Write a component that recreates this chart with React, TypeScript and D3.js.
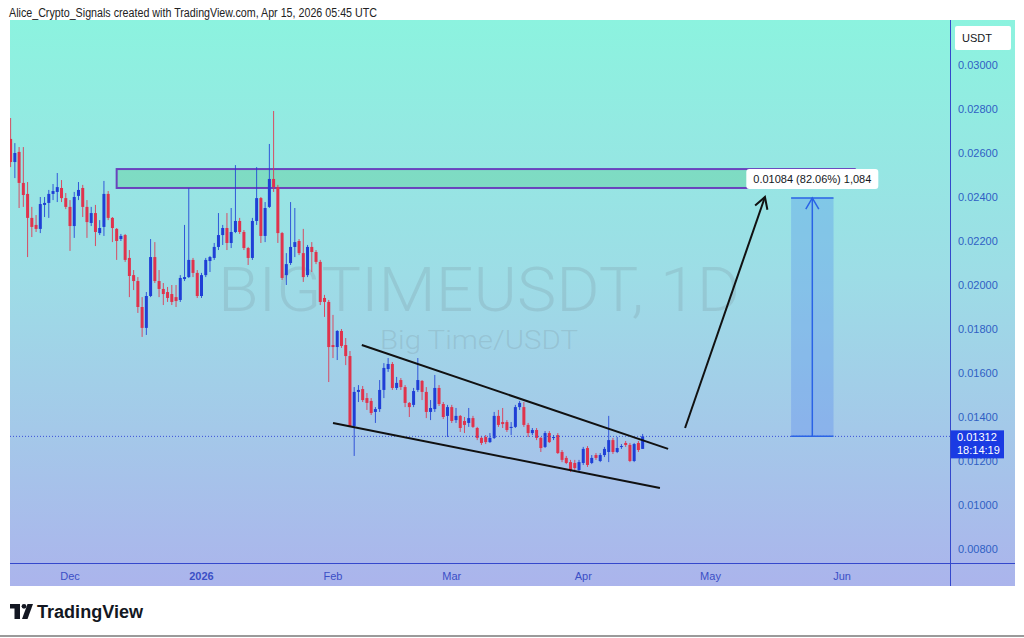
import React from 'react';
import * as d3 from 'd3';

// BIGTIMEUSDT daily candles, starting on FIRST_DAY
const FIRST_DAY = '2025-11-17';

const open = [
  0.02664, 0.02559, 0.02605, 0.02464, 0.02414, 0.02305, 0.02273, 0.02255, 0.02364, 0.02373,
  0.02414, 0.02423, 0.02441, 0.02395, 0.02355, 0.02268, 0.02405, 0.02441, 0.02355, 0.02282,
  0.02327, 0.02236, 0.02264, 0.02414, 0.02305, 0.02255, 0.02209, 0.02227, 0.02123, 0.02045,
  0.02018, 0.01900, 0.01805, 0.01950, 0.02127, 0.02018, 0.01982, 0.01968, 0.01959, 0.01945,
  0.01932, 0.02027, 0.02036, 0.02114, 0.02055, 0.01950, 0.02045, 0.02109, 0.02123, 0.02173,
  0.02227, 0.02259, 0.02191, 0.02241, 0.02291, 0.02241, 0.02168, 0.02123, 0.02291, 0.02395,
  0.02223, 0.02355, 0.02482, 0.02445, 0.02236, 0.02045, 0.02100, 0.02173, 0.02200, 0.02145,
  0.02045, 0.02173, 0.02150, 0.02105, 0.01941, 0.01923, 0.01727, 0.01718, 0.01791, 0.01727,
  0.01677, 0.01359, 0.01514, 0.01527, 0.01486, 0.01473, 0.01423, 0.01436, 0.01523, 0.01618,
  0.01641, 0.01532, 0.01568, 0.01536, 0.01464, 0.01455, 0.01523, 0.01564, 0.01514, 0.01423,
  0.01436, 0.01532, 0.01459, 0.01405, 0.01445, 0.01386, 0.01405, 0.01382, 0.01373, 0.01395,
  0.01350, 0.01305, 0.01309, 0.01286, 0.01305, 0.01405, 0.01377, 0.01377, 0.01350, 0.01355,
  0.01445, 0.01445, 0.01364, 0.01327, 0.01341, 0.01305, 0.01264, 0.01327, 0.01305, 0.01318,
  0.01241, 0.01214, 0.01195, 0.01191, 0.01159, 0.01191, 0.01259, 0.01191, 0.01227, 0.01200,
  0.01227, 0.01241, 0.01295, 0.01241, 0.01264, 0.01282, 0.01273, 0.01200, 0.01282, 0.01255,
];

const high = [
  0.02759, 0.02645, 0.02627, 0.02627, 0.02468, 0.02355, 0.02318, 0.02400, 0.02400, 0.02432,
  0.02459, 0.02509, 0.02477, 0.02418, 0.02386, 0.02423, 0.02468, 0.02455, 0.02386, 0.02355,
  0.02364, 0.02295, 0.02473, 0.02427, 0.02309, 0.02259, 0.02232, 0.02232, 0.02159, 0.02068,
  0.02036, 0.01945, 0.01968, 0.02209, 0.02195, 0.02068, 0.02009, 0.01991, 0.02000, 0.02000,
  0.02045, 0.02273, 0.02441, 0.02123, 0.02068, 0.02055, 0.02123, 0.02132, 0.02191, 0.02327,
  0.02273, 0.02327, 0.02350, 0.02545, 0.02305, 0.02250, 0.02173, 0.02305, 0.02536, 0.02400,
  0.02377, 0.02641, 0.02791, 0.02455, 0.02241, 0.02145, 0.02377, 0.02350, 0.02209, 0.02255,
  0.02182, 0.02195, 0.02159, 0.02114, 0.01955, 0.01932, 0.01864, 0.01795, 0.01800, 0.01759,
  0.01700, 0.01536, 0.01545, 0.01541, 0.01509, 0.01486, 0.01445, 0.01568, 0.01645, 0.01668,
  0.01650, 0.01582, 0.01577, 0.01545, 0.01468, 0.01532, 0.01668, 0.01568, 0.01536, 0.01477,
  0.01591, 0.01545, 0.01468, 0.01455, 0.01455, 0.01441, 0.01409, 0.01400, 0.01441, 0.01405,
  0.01355, 0.01314, 0.01318, 0.01327, 0.01423, 0.01432, 0.01441, 0.01386, 0.01377, 0.01455,
  0.01473, 0.01468, 0.01373, 0.01350, 0.01350, 0.01309, 0.01336, 0.01336, 0.01318, 0.01327,
  0.01250, 0.01223, 0.01205, 0.01205, 0.01205, 0.01264, 0.01268, 0.01227, 0.01236, 0.01236,
  0.01264, 0.01405, 0.01305, 0.01309, 0.01277, 0.01291, 0.01282, 0.01282, 0.01291, 0.01323,
];

const low = [
  0.02536, 0.02486, 0.02350, 0.02355, 0.02127, 0.02218, 0.02241, 0.02236, 0.02309, 0.02305,
  0.02386, 0.02377, 0.02377, 0.02345, 0.02155, 0.02214, 0.02386, 0.02309, 0.02214, 0.02268,
  0.02177, 0.02227, 0.02223, 0.02295, 0.02195, 0.02114, 0.02200, 0.02105, 0.01945, 0.01977,
  0.01873, 0.01764, 0.01773, 0.01945, 0.02009, 0.01945, 0.01909, 0.01923, 0.01909, 0.01900,
  0.01923, 0.02018, 0.02032, 0.02036, 0.01941, 0.01941, 0.02036, 0.02059, 0.02114, 0.02159,
  0.02182, 0.02159, 0.02168, 0.02236, 0.02232, 0.02159, 0.02091, 0.02114, 0.02273, 0.02191,
  0.02195, 0.02350, 0.02423, 0.02191, 0.02023, 0.02000, 0.02091, 0.02127, 0.02136, 0.02014,
  0.02036, 0.02059, 0.02095, 0.01909, 0.01855, 0.01559, 0.01668, 0.01659, 0.01714, 0.01636,
  0.01355, 0.01223, 0.01468, 0.01468, 0.01432, 0.01409, 0.01373, 0.01423, 0.01486, 0.01605,
  0.01523, 0.01523, 0.01523, 0.01445, 0.01400, 0.01445, 0.01514, 0.01477, 0.01395, 0.01386,
  0.01423, 0.01450, 0.01391, 0.01309, 0.01373, 0.01373, 0.01332, 0.01327, 0.01355, 0.01350,
  0.01295, 0.01273, 0.01277, 0.01282, 0.01300, 0.01355, 0.01350, 0.01332, 0.01318, 0.01350,
  0.01432, 0.01355, 0.01309, 0.01318, 0.01295, 0.01241, 0.01259, 0.01282, 0.01295, 0.01232,
  0.01195, 0.01186, 0.01150, 0.01150, 0.01150, 0.01182, 0.01173, 0.01186, 0.01205, 0.01195,
  0.01218, 0.01195, 0.01232, 0.01236, 0.01255, 0.01264, 0.01195, 0.01195, 0.01241, 0.01255,
];

const close = [
  0.02559, 0.02600, 0.02464, 0.02409, 0.02305, 0.02264, 0.02255, 0.02368, 0.02373, 0.02414,
  0.02427, 0.02445, 0.02395, 0.02355, 0.02268, 0.02400, 0.02432, 0.02355, 0.02286, 0.02327,
  0.02241, 0.02259, 0.02414, 0.02305, 0.02259, 0.02200, 0.02223, 0.02114, 0.02041, 0.02018,
  0.01900, 0.01805, 0.01950, 0.02127, 0.02018, 0.01982, 0.01959, 0.01941, 0.01923, 0.01927,
  0.02032, 0.02036, 0.02114, 0.02055, 0.01950, 0.02045, 0.02114, 0.02127, 0.02173, 0.02227,
  0.02259, 0.02191, 0.02241, 0.02291, 0.02241, 0.02168, 0.02123, 0.02291, 0.02395, 0.02223,
  0.02350, 0.02482, 0.02445, 0.02236, 0.02032, 0.02095, 0.02173, 0.02195, 0.02145, 0.02036,
  0.02173, 0.02150, 0.02105, 0.01923, 0.01923, 0.01718, 0.01718, 0.01791, 0.01723, 0.01677,
  0.01359, 0.01514, 0.01523, 0.01477, 0.01464, 0.01418, 0.01436, 0.01523, 0.01623, 0.01641,
  0.01532, 0.01555, 0.01536, 0.01464, 0.01445, 0.01518, 0.01568, 0.01514, 0.01423, 0.01441,
  0.01532, 0.01459, 0.01400, 0.01445, 0.01382, 0.01405, 0.01350, 0.01364, 0.01395, 0.01355,
  0.01305, 0.01282, 0.01286, 0.01305, 0.01405, 0.01364, 0.01368, 0.01341, 0.01355, 0.01445,
  0.01464, 0.01364, 0.01327, 0.01341, 0.01305, 0.01259, 0.01327, 0.01286, 0.01309, 0.01236,
  0.01205, 0.01191, 0.01159, 0.01168, 0.01195, 0.01255, 0.01182, 0.01214, 0.01214, 0.01227,
  0.01255, 0.01295, 0.01241, 0.01259, 0.01268, 0.01273, 0.01200, 0.01277, 0.01250, 0.01312,
];

// Axis ticks
const priceTicks = [0.008, 0.01, 0.012, 0.014, 0.016, 0.018, 0.02, 0.022, 0.024, 0.026, 0.028, 0.03];
const timeTickDates = ['2025-12-01', '2026-01-01', '2026-02-01', '2026-03-01', '2026-04-01', '2026-05-01', '2026-06-01'];
const timeTickLabels = ['Dec', '2026', 'Feb', 'Mar', 'Apr', 'May', 'Jun'];

// Last price and bar countdown
const lastPrice = 0.01312;
const countdown = '18:14:19';

// Resistance zone
const zoneDates = ['2025-12-12', '2026-06-04'];
const zonePrices = [0.02441, 0.02527];

// Falling wedge trend lines [date, price]
const upperLine: [string, number][] = [['2026-02-07T19:00:00Z', 0.01727], ['2026-04-21T00:00:00Z', 0.01255]];
const lowerLine: [string, number][] = [['2026-02-01T00:00:00Z', 0.01373], ['2026-04-19T02:00:00Z', 0.01077]];

// Projection arrow
const projection: [string, number][] = [['2026-04-25T00:00:00Z', 0.0135], ['2026-05-13T20:00:00Z', 0.024]];

// Price range measurement
const rangeDates = ['2026-05-20', '2026-05-30'];
const rangeChange = 0.01084;
const rangePercent = 82.06;
const rangeTicks = 1084;

const FONT = '"Liberation Sans", Arial, "DejaVu Sans", sans-serif';
const W = 1024;
const H = 638;
const PLOT = { left: 10, right: 950, top: 20, bottom: 563 };
const FRAME = { right: 1015, bottom: 586 };
const RED = '#e0334c';
const BLUE = '#1f3fd6';
const AXIS_BLUE = '#3448cc';

const d = (s: string) => new Date(s.length === 10 ? s + 'T00:00:00Z' : s);

function arrowHead(x1: number, y1: number, x2: number, y2: number, len: number) {
  const a = Math.atan2(y2 - y1, x2 - x1);
  const s = Math.PI / 6;
  const p1 = [x2 - len * Math.cos(a - s), y2 - len * Math.sin(a - s)];
  const p2 = [x2 - len * Math.cos(a + s), y2 - len * Math.sin(a + s)];
  return `M${p1[0]},${p1[1]}L${x2},${y2}L${p2[0]},${p2[1]}`;
}

export default function App() {
  const x = d3.scaleUtc().domain([d('2025-12-01'), d('2026-06-01')]).range([70, 842]);
  const y = d3.scaleLinear().domain([0.008, 0.03]).range([549, 65]);

  const start = d(FIRST_DAY);
  const candles = open.map((o, i) => ({
    date: d3.utcDay.offset(start, i),
    o, h: high[i], l: low[i], c: close[i],
  }));
  const bodyW = 3;

  const zx0 = x(d(zoneDates[0]));
  const zx1 = x(d(zoneDates[1]));
  const zy0 = y(zonePrices[1]);
  const zy1 = y(zonePrices[0]);

  const rx0 = x(d(rangeDates[0]));
  const rx1 = x(d(rangeDates[1]));
  const rxm = (rx0 + rx1) / 2;
  const ryBase = y(lastPrice);
  const ryTop = y(lastPrice + rangeChange);

  const line = d3.line<[string, number]>().x((p) => x(d(p[0]))).y((p) => y(p[1]));

  const px1 = x(d(projection[0][0]));
  const py1 = y(projection[0][1]);
  const px2 = x(d(projection[1][0]));
  const py2 = y(projection[1][1]);

  const lastY = y(lastPrice);
  const rangeLabel = `${rangeChange.toFixed(5)} (${rangePercent.toFixed(2)}%) ${d3.format(',')(rangeTicks)}`;
  const labelW = 132;

  return (
    <svg width={W} height={H} style={{ position: 'absolute', left: 0, top: 0, background: '#fff' }} fontFamily={FONT}>
      <defs>
        <linearGradient id="bg" x1="0" y1="0" x2="0" y2="1">
          <stop offset="0" stopColor="#8cf3df" />
          <stop offset="0.45" stopColor="#9ddde6" />
          <stop offset="1" stopColor="#abb4ec" />
        </linearGradient>
        <clipPath id="plot">
          <rect x={PLOT.left} y={PLOT.top} width={PLOT.right - PLOT.left} height={PLOT.bottom - PLOT.top} />
        </clipPath>
      </defs>

      {/* header */}
      <text x={9} y={17} fontSize={12} fill="#222" textLength={368} lengthAdjust="spacingAndGlyphs">
        Alice_Crypto_Signals created with TradingView.com, Apr 15, 2026 05:45 UTC
      </text>

      {/* chart background */}
      <rect x={PLOT.left} y={PLOT.top} width={FRAME.right - PLOT.left} height={FRAME.bottom - PLOT.top} fill="url(#bg)" />

      {/* watermark */}
      <text x={218} y={311} fontSize={62} fontWeight={300} fill="#7f9aa6" fillOpacity={0.28}
        textLength={522} lengthAdjust="spacingAndGlyphs" fontFamily='Roboto, "Liberation Sans", sans-serif'>
        BIGTIMEUSDT, 1D
      </text>
      <text x={380} y={349} fontSize={26} fontWeight={300} fill="#7f9aa6" fillOpacity={0.3}
        textLength={198} lengthAdjust="spacingAndGlyphs" fontFamily='Roboto, "Liberation Sans", sans-serif'>
        Big Time/USDT
      </text>

      <g clipPath="url(#plot)">
        {/* resistance zone */}
        <rect x={zx0} y={zy0} width={zx1 - zx0} height={zy1 - zy0}
          fill="rgba(80,200,130,0.33)" stroke="#6a43bd" strokeWidth={2} />

        {/* candles */}
        {candles.map((k, i) => {
          const cx = x(k.date);
          const up = k.c >= k.o;
          const col = up ? BLUE : RED;
          const top = y(Math.max(k.o, k.c));
          const bot = y(Math.min(k.o, k.c));
          return (
            <g key={i}>
              <line x1={cx} x2={cx} y1={y(k.h)} y2={y(k.l)} stroke={col} strokeWidth={1} strokeOpacity={0.85} />
              <rect x={cx - bodyW / 2} y={top} width={bodyW} height={Math.max(1, bot - top)} fill={col} />
            </g>
          );
        })}

        {/* last price line */}
        <line x1={PLOT.left} x2={PLOT.right} y1={lastY} y2={lastY} stroke="#3a4fd8" strokeWidth={1} strokeDasharray="1,2" />

        {/* wedge */}
        <path d={line(upperLine) || ''} stroke="#111" strokeWidth={2} fill="none" />
        <path d={line(lowerLine) || ''} stroke="#111" strokeWidth={2} fill="none" />

        {/* projection arrow */}
        <line x1={px1} y1={py1} x2={px2} y2={py2} stroke="#111" strokeWidth={2} />
        <path d={arrowHead(px1, py1, px2, py2, 13)} stroke="#111" strokeWidth={2} fill="none" />

        {/* price range measurement */}
        <rect x={rx0} y={ryTop} width={rx1 - rx0} height={ryBase - ryTop} fill="rgba(45,100,240,0.22)" />
        <line x1={rx0} x2={rx1} y1={ryTop} y2={ryTop} stroke="#2a63e6" strokeWidth={1.5} />
        <line x1={rx0} x2={rx1} y1={ryBase} y2={ryBase} stroke="#2a63e6" strokeWidth={1.5} />
        <line x1={rxm} x2={rxm} y1={ryBase} y2={ryTop} stroke="#2a63e6" strokeWidth={1.5} />
        <path d={arrowHead(rxm, ryBase, rxm, ryTop, 13)} stroke="#2a63e6" strokeWidth={1.5} fill="none" />

        <rect x={rxm - labelW / 2} y={ryTop - 29} width={labelW} height={20} rx={3} fill="#fff" />
        <text x={rxm} y={ryTop - 15} fontSize={11} fill="#131722" textAnchor="middle">{rangeLabel}</text>
      </g>

      {/* axes lines */}
      <line x1={PLOT.right + 0.5} x2={PLOT.right + 0.5} y1={PLOT.top} y2={FRAME.bottom} stroke={AXIS_BLUE} strokeWidth={1} />
      <line x1={PLOT.left} x2={FRAME.right} y1={PLOT.bottom + 0.5} y2={PLOT.bottom + 0.5} stroke={AXIS_BLUE} strokeWidth={1} />

      {/* price axis */}
      <rect x={955} y={26} width={56} height={24} rx={2} fill="#fff" />
      <text x={962} y={42} fontSize={11} fill="#131722">USDT</text>
      {priceTicks.map((p) => (
        <text key={p} x={958} y={y(p) + 4} fontSize={11} fill="#2f5fc4">{p.toFixed(5)}</text>
      ))}
      <rect x={951} y={lastY - 6} width={53} height={28} fill="#1a3be3" />
      <text x={957} y={lastY + 5} fontSize={11} fill="#fff">{lastPrice.toFixed(5)}</text>
      <text x={957} y={lastY + 18} fontSize={11} fill="#fff">{countdown}</text>

      {/* time axis */}
      {timeTickDates.map((t, i) => (
        <text key={t} x={x(d(t))} y={580} fontSize={11} fill="#3b4fc6" textAnchor="middle"
          fontWeight={timeTickLabels[i] === '2026' ? 700 : 400}>
          {timeTickLabels[i]}
        </text>
      ))}

      {/* footer logo */}
      <g fill="#131722">
        <rect x={10} y={604} width={10} height={4.5} />
        <rect x={14.5} y={604} width={5.5} height={15} />
        <circle cx={24} cy={606.3} r={2.4} />
        <path d="M27.5,604 L33,604 L27.5,619 L22,619 Z" />
      </g>
      <text x={37} y={618} fontSize={18} fontWeight={700} fill="#131722" textLength={106} lengthAdjust="spacingAndGlyphs">
        TradingView
      </text>
      <line x1={0} x2={W} y1={636} y2={636} stroke="#9a9a9a" strokeWidth={2} />
    </svg>
  );
}
